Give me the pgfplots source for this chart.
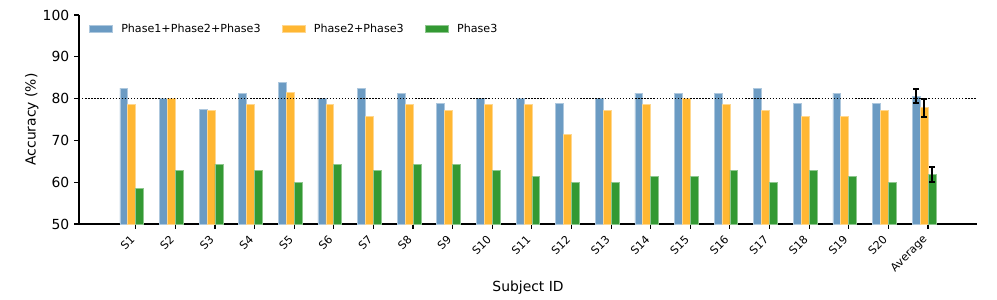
\documentclass[border=0pt]{standalone}
\usepackage{pgfplots}
\pgfplotsset{compat=1.18}
\usepackage{pgfplotstable}
\usepackage{fontspec}
\setmainfont{DejaVu Sans}
\definecolor{cblue}{RGB}{107,155,195}
\definecolor{corange}{RGB}{255,183,51}
\definecolor{cgreen}{RGB}{51,153,51}
\pgfplotstableread{
idx blue orange green
0 82.5 78.6 58.6
1 80.0 80.0 62.9
2 77.5 77.1 64.3
3 81.3 78.6 62.9
4 83.8 81.4 60.0
5 80.0 78.6 64.3
6 82.5 75.7 62.9
7 81.3 78.6 64.3
8 78.8 77.1 64.3
9 80.0 78.6 62.9
10 80.0 78.6 61.4
11 78.8 71.4 60.0
12 80.0 77.1 60.0
13 81.3 78.6 61.4
14 81.3 80.0 61.4
15 81.3 78.6 62.9
16 82.5 77.1 60.0
17 78.8 75.7 62.9
18 81.3 75.7 61.4
19 78.8 77.1 60.0
}\subjects
\pgfplotsset{
  mybar/.style={ybar, bar width=0.2, bar shift=0pt, line width=0.5pt,
    legend image code/.code={\fill[##1] (0pt,-2.65pt) rectangle (16.3pt,2.65pt);}},
}
\begin{document}
\begin{tikzpicture}
\useasboundingbox (0,0) rectangle (717.84pt,215.28pt);
\begin{axis}[
  at={(56.9pt,54pt)}, anchor=south west,
  scale only axis, width=646.6pt, height=150.5pt,
  xmin=-1.432, xmax=21.24, ymin=50, ymax=100,
  axis x line*=bottom, axis y line*=left,
  axis line style={line width=0.9pt},
  tick align=outside, major tick length=3.5pt,
  tick style={line width=0.8pt, black},
  xtick={0,...,20},
  xticklabels={S1,S2,S3,S4,S5,S6,S7,S8,S9,S10,S11,S12,S13,S14,S15,S16,S17,S18,S19,S20,Average},
  ytick={50,60,70,80,90,100},
  /pgf/number format/assume math mode=true,
  yticklabel style={font=\fontsize{10}{12}\selectfont},
  xticklabel style={font=\fontsize{8}{10}\selectfont, xshift=-4.5pt, yshift=-2.2pt, rotate=45, anchor=north east, inner sep=1pt},
  xlabel={Subject ID}, ylabel={Accuracy (\%)},
  ylabel shift=-3.8pt,
  label style={font=\fontsize{10}{12}\selectfont},
  legend columns=3,
  legend style={at={(axis description cs:0.0065,0.933)}, anchor=west, draw=none, fill=none,
    font=\fontsize{8}{10}\selectfont,
    /tikz/every odd column/.append style={column sep=4.2pt},
    /tikz/every even column/.append style={column sep=13.4pt}},
]
\addplot[mybar, fill=cblue, draw=cblue!55!white] table[x expr=\thisrow{idx}-0.3, y=blue] {\subjects};
\addlegendentry{Phase1+Phase2+Phase3}
\addplot[mybar, fill=corange, draw=corange!55!white] table[x expr=\thisrow{idx}-0.1, y=orange] {\subjects};
\addlegendentry{Phase2+Phase3}
\addplot[mybar, fill=cgreen, draw=cgreen!55!white] table[x expr=\thisrow{idx}+0.1, y=green] {\subjects};
\addlegendentry{Phase3}
\addplot[mybar, forget plot, fill=cblue, draw=cblue!55!white,
  error bars/.cd, y dir=both, y explicit,
  error bar style={black, line width=1.4pt},
  error mark options={black, line width=1.4pt, mark size=2.2pt, rotate=90}]
  coordinates {(19.7,80.64) +- (0,1.68)};
\addplot[mybar, forget plot, fill=corange, draw=corange!55!white,
  error bars/.cd, y dir=both, y explicit,
  error bar style={black, line width=1.4pt},
  error mark options={black, line width=1.4pt, mark size=2.2pt, rotate=90}]
  coordinates {(19.9,77.8) +- (0,2.15)};
\addplot[mybar, forget plot, fill=cgreen, draw=cgreen!55!white,
  error bars/.cd, y dir=both, y explicit,
  error bar style={black, line width=1.4pt},
  error mark options={black, line width=1.4pt, mark size=2.2pt, rotate=90}]
  coordinates {(20.1,61.9) +- (0,1.84)};
\addplot[forget plot, black, line width=1pt, dash pattern=on 1pt off 1.2pt, sharp plot, no marks]
  coordinates {(-1.432,80) (21.24,80)};
\end{axis}
\end{tikzpicture}
\end{document}
